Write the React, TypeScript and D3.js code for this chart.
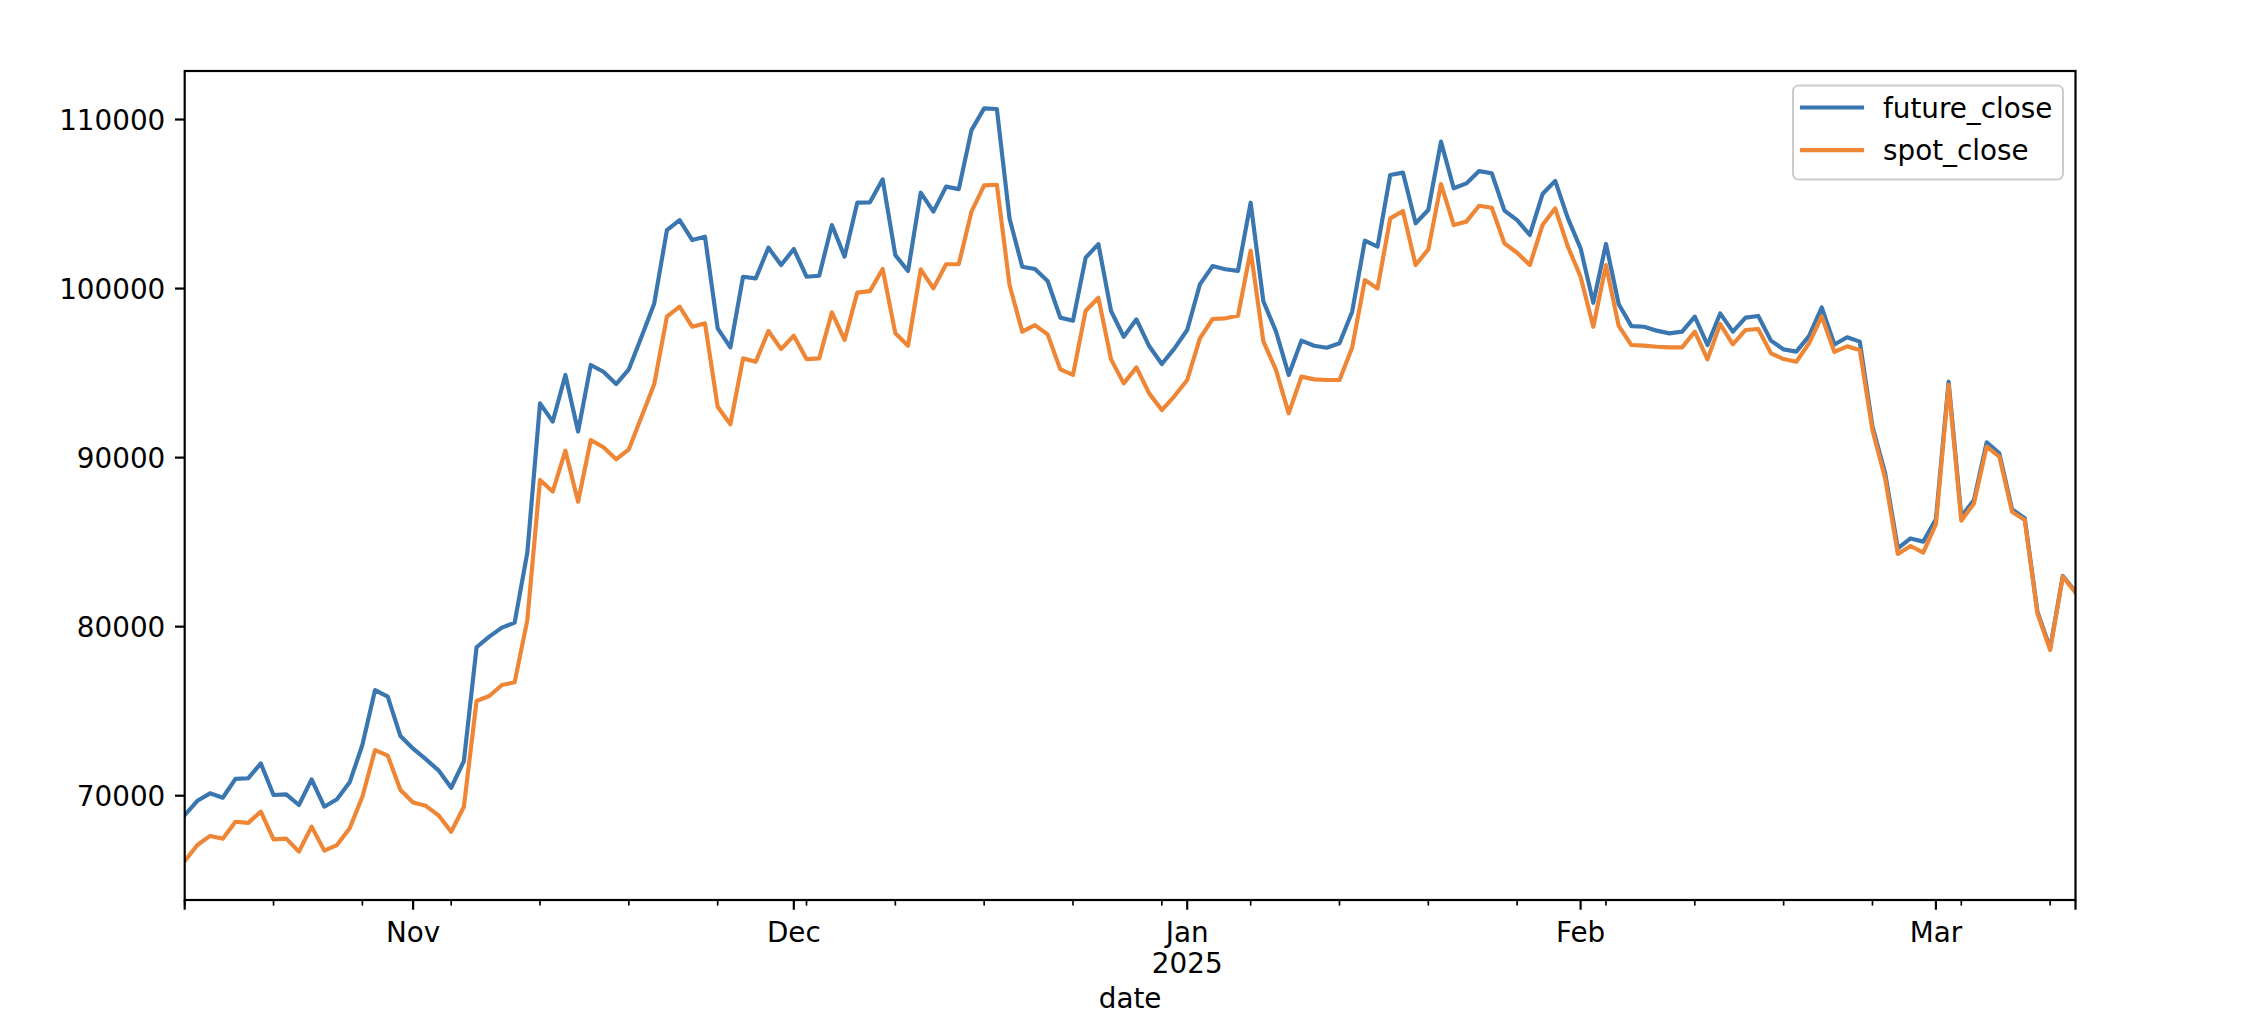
import React from "react";
import * as d3 from "d3";

// ---- data (daily closes, starting 2024-10-14) ----
const startDate = "2024-10-14";
const seriesNames = ["future_close", "spot_close"];
const futureClose = [
  68850, 69700, 70140, 69880, 71000, 71030, 71910, 70040, 70080, 69450,
  70970, 69350, 69790, 70790, 73000, 76250, 75860, 73530, 72780, 72160,
  71500, 70470, 72050, 78780, 79410, 79940, 80240, 84380, 93210, 92130,
  94890, 91540, 95480, 95080, 94350, 95220, 97150, 99120, 103460, 104050,
  102870, 103070, 97650, 96520, 100700, 100600, 102420, 101390, 102340, 100700,
  100760, 103760, 101890, 105080, 105100, 106460, 101980, 101040, 105670, 104550,
  106030, 105880, 109370, 110660, 110620, 104150, 101290, 101160, 100450, 98280,
  98100, 101830, 102630, 98670, 97150, 98180, 96600, 95540, 96460, 97550,
  100250, 101330, 101140, 101050, 105080, 99250, 97450, 94890, 96920, 96620,
  96500, 96760, 98630, 102830, 102480, 106720, 106860, 103860, 104650, 108690,
  105930, 106220, 106950, 106820, 104610, 104050, 103170, 105590, 106370, 104150,
  102380, 99160, 102640, 99090, 97780, 97740, 97510, 97350, 97450, 98340,
  96660, 98530, 97450, 98280, 98380, 96920, 96400, 96270, 97190, 98880,
  96690, 97120, 96860, 91830, 89070, 84630, 85220, 85030, 86350, 94490,
  86510, 87490, 90900, 90250, 86940, 86410, 80890, 78720, 83000, 82070,
];
const spotClose = [
  66140, 67080, 67620, 67460, 68460, 68390, 69060, 67420, 67460, 66690,
  68170, 66750, 67080, 68070, 69940, 72700, 72370, 70340, 69600, 69400,
  68840, 67870, 69350, 75600, 75900, 76550, 76710, 80390, 88680, 87990,
  90410, 87390, 91040, 90610, 89900, 90490, 92420, 94340, 98340, 98930,
  97740, 97940, 93010, 91970, 95870, 95670, 97490, 96420, 97210, 95830,
  95870, 98590, 96960, 99760, 99850, 101160, 97350, 96620, 101140, 100010,
  101440, 101450, 104550, 106100, 106140, 100210, 97450, 97840, 97290, 95220,
  94890, 98690, 99460, 95810, 94390, 95340, 93800, 92810, 93640, 94590,
  97050, 98200, 98240, 98390, 102240, 96880, 95180, 92620, 94790, 94630,
  94590, 94590, 96520, 100500, 100010, 104150, 104590, 101390, 102320, 106180,
  103760, 103960, 104900, 104780, 102670, 102120, 101390, 103760, 104745, 102480,
  100700, 97740, 101390, 97800, 96660, 96620, 96560, 96520, 96520, 97450,
  95810, 97900, 96700, 97550, 97610, 96170, 95830, 95670, 96760, 98360,
  96250, 96580, 96370, 91630, 88770, 84300, 84770, 84380, 86070, 94300,
  86270, 87290, 90650, 90060, 86800, 86310, 80790, 78620, 82960, 82010,
];
const yTicks = [70000, 80000, 90000, 100000, 110000];
const yDomain = [63830, 112870];

// ---- layout ----
const W = 2246;
const H = 1016;
const L = 184.7;
const R = 2075.5;
const T = 71;
const B = 900;
const FS = 27.8;
const FONT = "DejaVu Sans, sans-serif";
const COLORS = ["#3a76af", "#ef8636"];

export default function App() {
  const start = d3.utcParse("%Y-%m-%d")(startDate) as Date;
  const dates = futureClose.map((_, i) => d3.utcDay.offset(start, i));
  const end = dates[dates.length - 1];

  const x = d3.scaleUtc().domain([start, end]).range([L, R]);
  const y = d3.scaleLinear().domain(yDomain).range([B, T]);

  const series = [futureClose, spotClose];
  const line = d3
    .line<number>()
    .x((_, i) => x(dates[i]))
    .y((v) => y(v));

  const monthTicks = d3.utcMonth.range(d3.utcDay.offset(start, 1), end);
  const majorTicks = [start, ...monthTicks, end];
  const minorTicks = d3.utcMonday.range(start, d3.utcDay.offset(end, 1));
  const fmtMonth = d3.utcFormat("%b");
  const fmtYear = d3.utcFormat("%Y");

  return (
    <svg
      width={W}
      height={H}
      style={{ position: "absolute", left: 0, top: 0, background: "#fff" }}
      fontFamily={FONT}
    >
      <rect x={0} y={0} width={W} height={H} fill="#fff" />
      <defs>
        <clipPath id="plotclip">
          <rect x={L} y={T} width={R - L} height={B - T} />
        </clipPath>
      </defs>

      {/* series lines */}
      <g clipPath="url(#plotclip)">
        {series.map((s, k) => (
          <path
            key={k}
            d={line(s) || ""}
            fill="none"
            stroke={COLORS[k]}
            strokeWidth={4.17}
            strokeLinejoin="round"
            strokeLinecap="square"
          />
        ))}
      </g>

      {/* spines */}
      <rect x={L} y={T} width={R - L} height={B - T} fill="none" stroke="#000" strokeWidth={2.2} />

      {/* y axis */}
      {yTicks.map((t) => (
        <g key={t}>
          <line x1={L - 9.7} x2={L} y1={y(t)} y2={y(t)} stroke="#000" strokeWidth={2.2} />
          <text x={L - 19.4} y={y(t) + 10} fontSize={FS} textAnchor="end" fill="#000">
            {t}
          </text>
        </g>
      ))}

      {/* x axis minor ticks */}
      {minorTicks.map((t, i) => (
        <line key={"m" + i} x1={x(t)} x2={x(t)} y1={B} y2={B + 5.6} stroke="#000" strokeWidth={1.67} />
      ))}
      {/* x axis major ticks */}
      {majorTicks.map((t, i) => (
        <line key={"M" + i} x1={x(t)} x2={x(t)} y1={B} y2={B + 9.7} stroke="#000" strokeWidth={2.2} />
      ))}
      {monthTicks.map((t, i) => (
        <g key={"l" + i}>
          <text x={x(t)} y={942} fontSize={FS} textAnchor="middle" fill="#000">
            {fmtMonth(t)}
          </text>
          {t.getUTCMonth() === 0 && (
            <text x={x(t)} y={973} fontSize={FS} textAnchor="middle" fill="#000">
              {fmtYear(t)}
            </text>
          )}
        </g>
      ))}
      <text x={(L + R) / 2} y={1008} fontSize={FS} textAnchor="middle" fill="#000">
        date
      </text>

      {/* legend */}
      <g>
        <rect x={1793} y={85.5} width={270} height={94} rx={5.5} fill="#fff" fillOpacity={0.8} stroke="#cccccc" strokeWidth={2} />
        {seriesNames.map((name, k) => (
          <g key={name}>
            <line x1={1802} x2={1862} y1={107.5 + k * 42.7} y2={107.5 + k * 42.7} stroke={COLORS[k]} strokeWidth={4.17} strokeLinecap="square" />
            <text x={1883} y={117.5 + k * 42.7} fontSize={FS} fill="#000">
              {name}
            </text>
          </g>
        ))}
      </g>
    </svg>
  );
}
